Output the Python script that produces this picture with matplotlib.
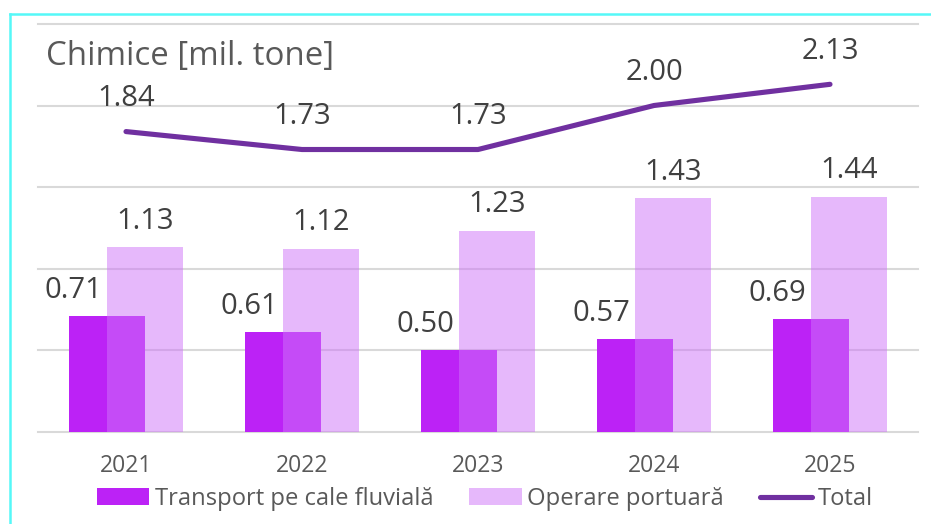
import matplotlib
matplotlib.use("Agg")
import matplotlib.pyplot as plt
from matplotlib.lines import Line2D
import numpy as np

plt.rcParams['font.family'] = ['Open Sans', 'DejaVu Sans']

years = ["2021", "2022", "2023", "2024", "2025"]
transport = [0.71, 0.61, 0.50, 0.57, 0.69]
operare = [1.13, 1.12, 1.23, 1.43, 1.44]
total = [1.84, 1.73, 1.73, 2.00, 2.13]

title = "Chimice [mil. tone]"
legend_labels = ["Transport pe cale fluvială", "Operare portuară", "Total"]

c_dark = "#bc22f6"
c_light = "#ce74f8"
c_line = "#7030a0"
c_grid = "#d9d9d9"
c_text = "#404040"
c_tick = "#595959"

W, H = 931, 524
fig = plt.figure(figsize=(W / 100, H / 100), dpi=100)
ax = fig.add_axes([38 / W, 1 - 431.5 / H, (918 - 38) / W, (431.5 - 24) / H])

x = np.arange(len(years))
bw = 0.433
off = 0.108

b1 = ax.bar(x - off, transport, bw, color=c_dark, zorder=2, label=legend_labels[0])
b2 = ax.bar(x + off, operare, bw, color=c_light, alpha=0.51, zorder=3, label=legend_labels[1])
ln, = ax.plot(x, total, color=c_line, lw=3.7, solid_capstyle='round', zorder=4, label=legend_labels[2])

ax.set_xlim(-0.5, 4.5)
ax.set_ylim(0, 2.5)
ax.set_yticks(np.arange(0, 2.51, 0.5))
ax.yaxis.grid(True, color=c_grid, lw=1.5, zorder=0)
ax.set_axisbelow(True)
for gl in ax.get_ygridlines():
    gl.set_clip_on(False)
ax.tick_params(axis='y', left=False, labelleft=False)
ax.tick_params(axis='x', bottom=False, labelsize=16.5, labelcolor=c_tick, pad=13)
ax.set_xticks(x)
ax.set_xticklabels(years)
for s in ax.spines.values():
    s.set_visible(False)

fs = 21
for xi, v in zip(x, transport):
    ax.annotate(f"{v:.2f}", (xi - off, v), xytext=(-24, 13), textcoords='offset points',
                ha='center', va='baseline', fontsize=fs, color=c_text)
for xi, v in zip(x, operare):
    ax.annotate(f"{v:.2f}", (xi + off, v), xytext=(0, 13.5), textcoords='offset points',
                ha='center', va='baseline', fontsize=fs, color=c_text)
for xi, v in zip(x, total):
    ax.annotate(f"{v:.2f}", (xi, v), xytext=(0, 18.5), textcoords='offset points',
                ha='center', va='baseline', fontsize=fs, color=c_text)

fig.text(46 / W, 1 - 56 / H, title, fontsize=23.8, color=c_tick, ha='left', va='center')

leg = fig.legend(handles=[b1, b2, ln], labels=legend_labels, loc='center',
                 bbox_to_anchor=(485 / W, 1 - 499 / H), ncol=3, frameon=False,
                 fontsize=17.1, handlelength=2.2, handletextpad=0.25,
                 columnspacing=1.5, borderpad=0, borderaxespad=0)
for t in leg.get_texts():
    t.set_color(c_tick)

# cyan frame
fig.add_artist(Line2D([10 / W, 1], [1 - 13.5 / H, 1 - 13.5 / H], color="#55f8f8", lw=1.8,
                      transform=fig.transFigure))
fig.add_artist(Line2D([10 / W, 10 / W], [0, 1 - 13.5 / H], color="#55f8f8", lw=1.8,
                      transform=fig.transFigure))

fig.savefig("out.png", dpi=100)
